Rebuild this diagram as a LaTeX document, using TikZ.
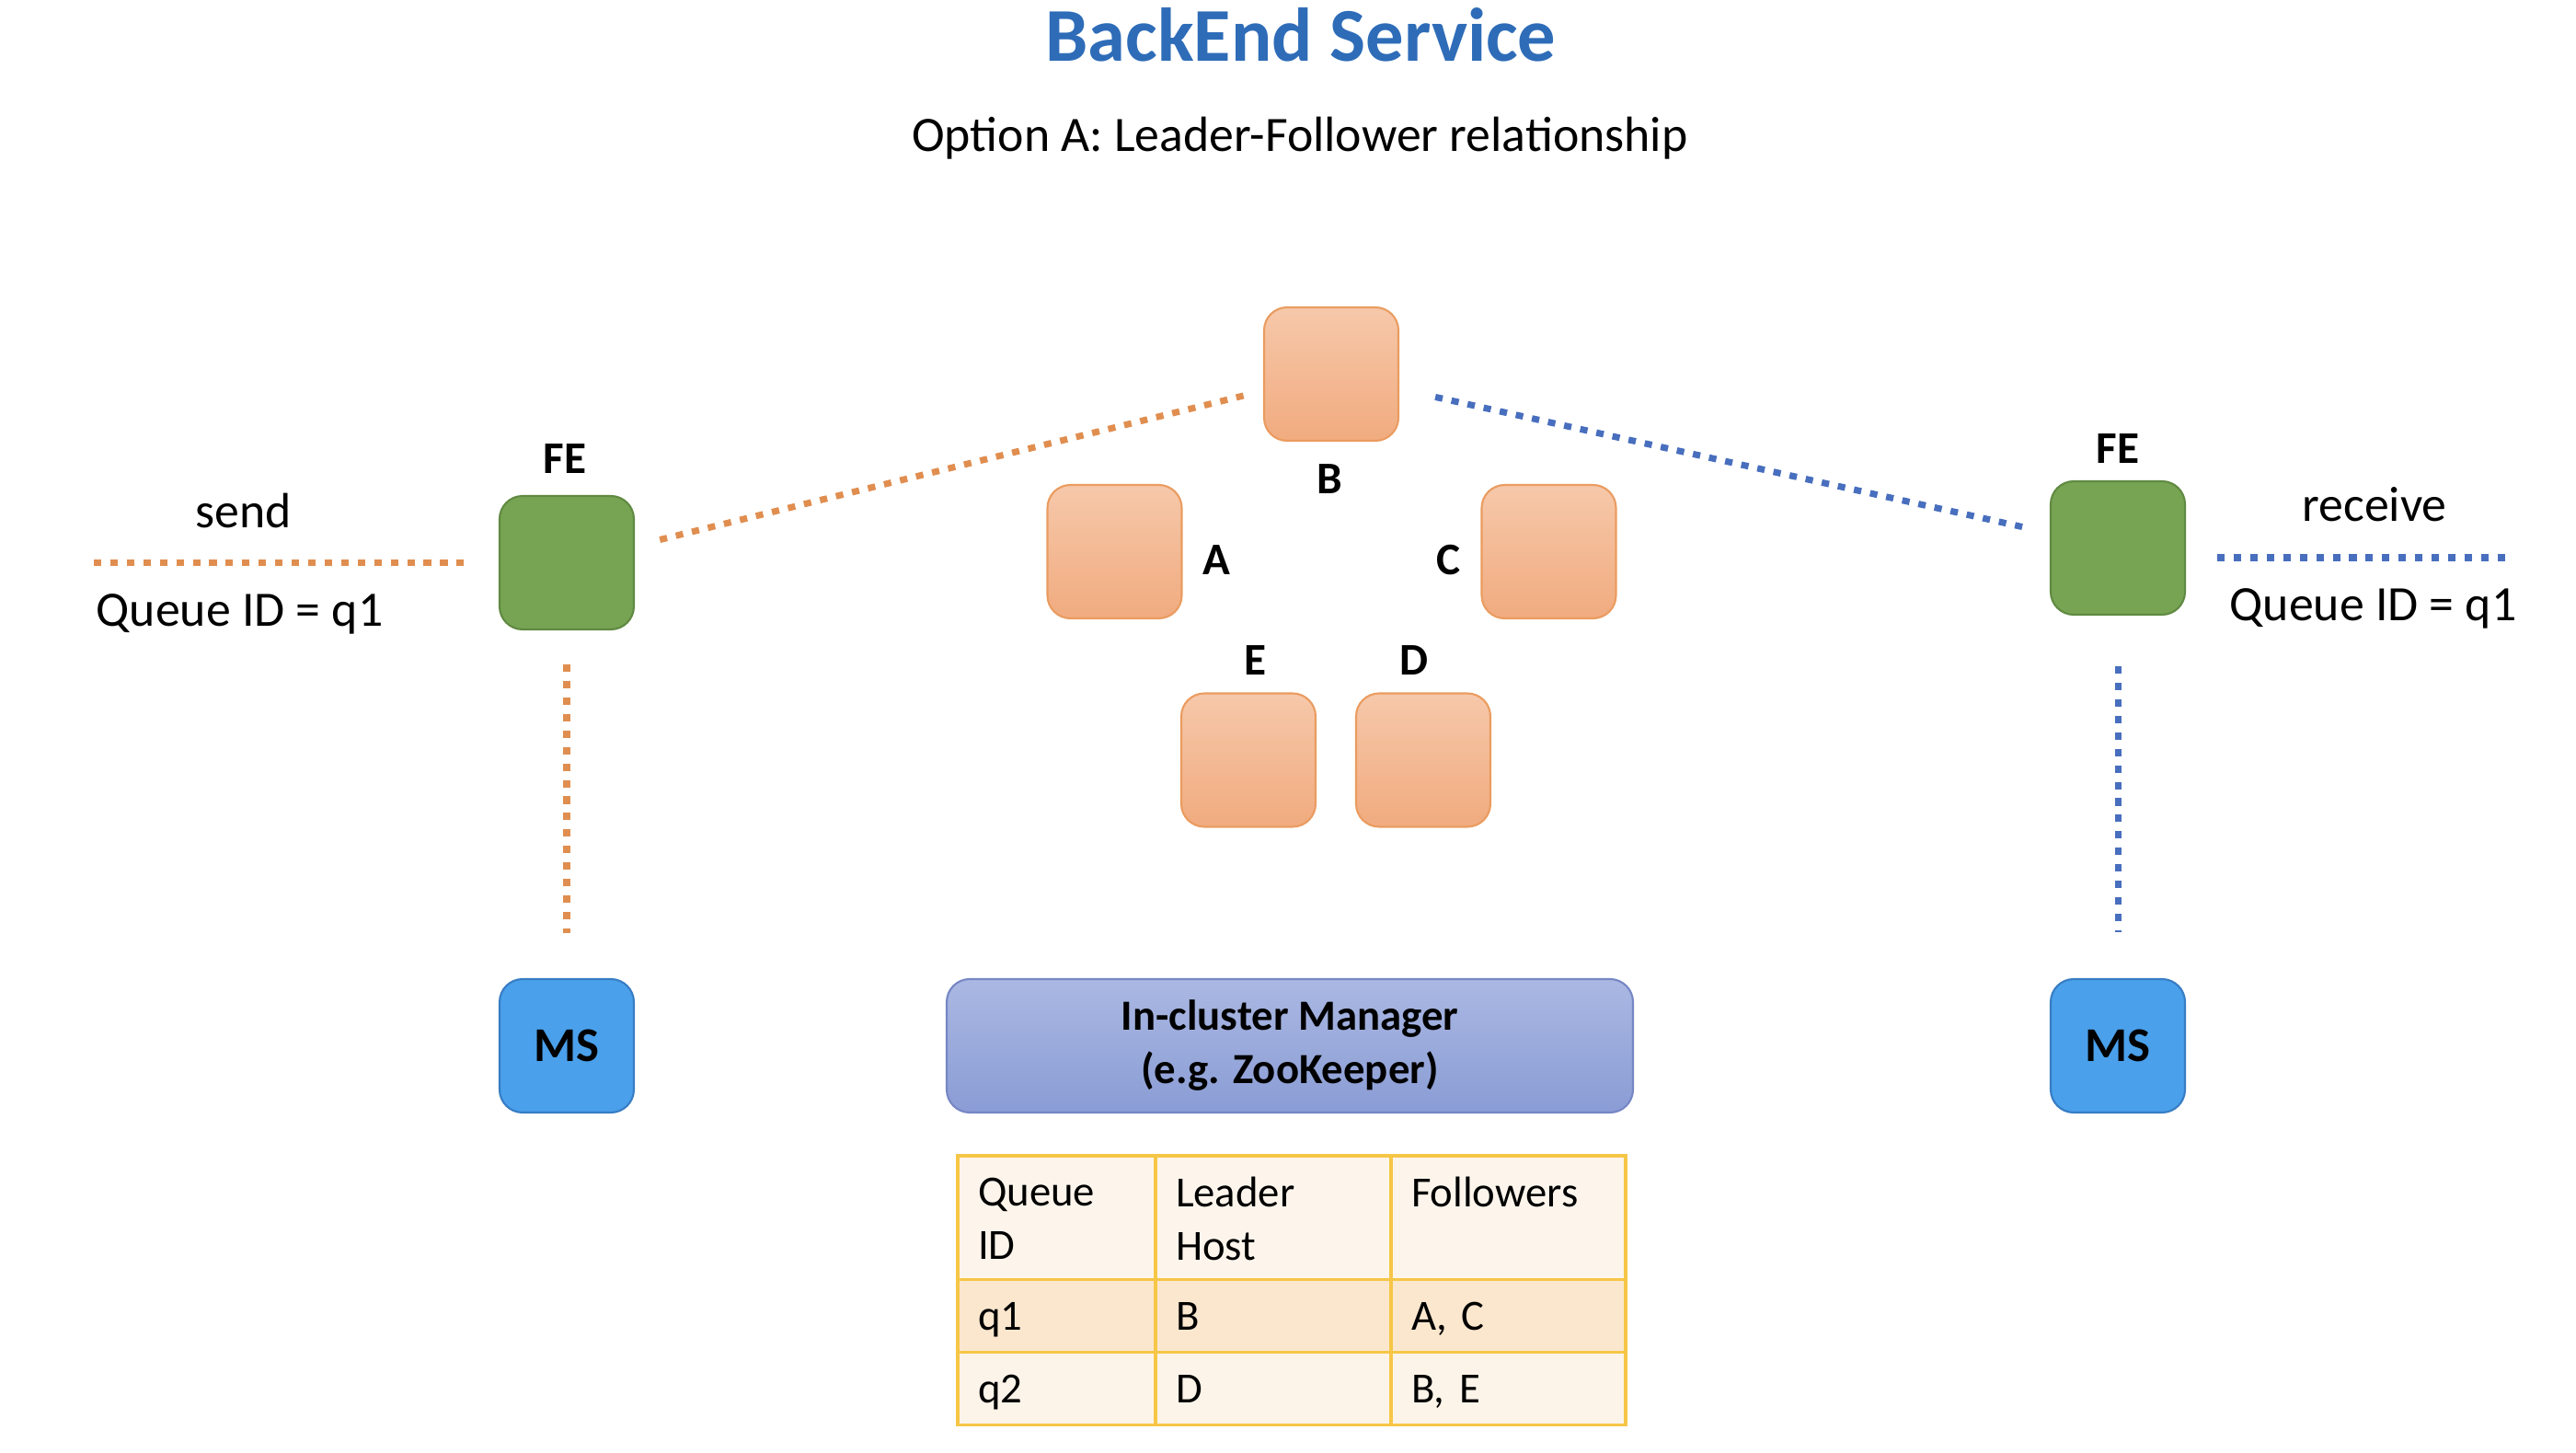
\documentclass[tikz,border=0pt]{standalone}
\usepackage{fontspec}
\setmainfont{Carlito}
\usepackage{xcolor}
\definecolor{titleblue}{RGB}{46, 108, 184}
\definecolor{hosttop}{RGB}{246, 200, 170}
\definecolor{hostbot}{RGB}{241, 171, 127}
\definecolor{hostedge}{RGB}{234, 156, 96}
\definecolor{fegreen}{RGB}{119, 164, 83}
\definecolor{feedge}{RGB}{96, 138, 66}
\definecolor{msblue}{RGB}{74, 160, 235}
\definecolor{msedge}{RGB}{55, 125, 195}
\definecolor{mgrtop}{RGB}{170, 184, 226}
\definecolor{mgrbot}{RGB}{138, 156, 213}
\definecolor{mgredge}{RGB}{118, 135, 196}
\definecolor{tabedge}{RGB}{246, 198, 70}
\definecolor{tabhead}{RGB}{253, 245, 236}
\definecolor{tabrowa}{RGB}{251, 231, 206}
\definecolor{tabrowb}{RGB}{253, 244, 233}
\definecolor{sendorange}{RGB}{224, 142, 80}
\definecolor{recvblue}{RGB}{72, 110, 190}

\begin{document}
\begin{tikzpicture}[
    box/.style={rectangle, rounded corners=2.5mm, line width=0.6pt, minimum width=1.46cm, minimum height=1.45cm},
    host/.style={box, draw=hostedge, top color=hosttop, bottom color=hostbot},
    fe/.style={box, draw=feedge, fill=fegreen},
    ms/.style={box, draw=msedge, fill=msblue, font=\fontsize{15}{18}\selectfont\bfseries},
    tag/.style={anchor=base, font=\fontsize{14}{17}\selectfont\bfseries},
    txt/.style={anchor=base, font=\fontsize{15.3}{18}\selectfont},
    cell/.style={rectangle, draw=tabedge, line width=0.9pt, inner xsep=2.2mm, align=left, font=\fontsize{13.3}{16.5}\selectfont},
    headcell/.style={cell, fill=tabhead, minimum height=1.36cm},
    rowcell/.style={cell, minimum height=0.79cm, text height=0.9em, text depth=0.04em},
    sendline/.style={sendorange, line width=2pt, dash pattern=on 2.3pt off 2.8pt},
    recvline/.style={recvblue, line width=2pt, dash pattern=on 2.3pt off 2.8pt}]
    \useasboundingbox (0, 0) rectangle (28, 15.78);

    % Title
    \node[anchor=base, text=titleblue, font=\fontsize{23.5}{28}\selectfont\bfseries] (title) at (14.14, 15.11) {BackEnd Service};
    \node[txt] (subtitle) at (14.13, 14.13) {Option A: Leader-Follower relationship};

    % Hosts
    \node[host] (hB) at (14.47, 11.715) {};
    \node[host] (hA) at (12.115, 9.785) {};
    \node[host] (hC) at (16.835, 9.785) {};
    \node[host] (hE) at (13.57, 7.52) {};
    \node[host] (hD) at (15.47, 7.52) {};
    \node[tag] (labB) at (14.45, 10.41) {B};
    \node[tag] (labA) at (13.22, 9.53) {A};
    \node[tag] (labC) at (15.75, 9.53) {C};
    \node[tag] (labE) at (13.64, 8.45) {E};
    \node[tag] (labD) at (15.37, 8.45) {D};

    % Front ends
    \node[fe] (feL) at (6.16, 9.665) {};
    \node[fe] (feR) at (23.02, 9.825) {};
    \node[tag] (labFeL) at (6.14, 10.63) {FE};
    \node[tag] (labFeR) at (23.02, 10.74) {FE};

    % Metadata services
    \node[ms] (msL) at (6.16, 4.415) {MS};
    \node[ms] (msR) at (23.02, 4.415) {MS};

    % Manager
    \node[box, draw=mgredge, top color=mgrtop, bottom color=mgrbot, minimum width=7.46cm, align=center,
          font=\fontsize{13.3}{16.5}\selectfont\bfseries] (mgr) at (14.02, 4.415) {In-cluster Manager\\(e.g. ZooKeeper)};

    % Table
    \node[headcell, minimum width=2.15cm, text width=1.71cm] (tq) at (11.485, 2.54) {Queue\\ID};
    \node[headcell, minimum width=2.56cm, text width=2.12cm] (tl) at (13.84, 2.54) {Leader\\Host};
    \node[headcell, minimum width=2.55cm, text width=2.11cm] (tf) at (16.395, 2.54) {Followers\\\mbox{}};
    \node[rowcell, fill=tabrowa, minimum width=2.15cm, text width=1.71cm] (q1id) at (11.485, 1.48) {q1};
    \node[rowcell, fill=tabrowa, minimum width=2.56cm, text width=2.12cm] (q1lead) at (13.84, 1.48) {B};
    \node[rowcell, fill=tabrowa, minimum width=2.55cm, text width=2.11cm] (q1fol) at (16.395, 1.48) {A, C};
    \node[rowcell, fill=tabrowb, minimum width=2.15cm, text width=1.71cm] (q2id) at (11.485, 0.69) {q2};
    \node[rowcell, fill=tabrowb, minimum width=2.56cm, text width=2.12cm] (q2lead) at (13.84, 0.69) {D};
    \node[rowcell, fill=tabrowb, minimum width=2.55cm, text width=2.11cm] (q2fol) at (16.395, 0.69) {B, E};

    % Send / receive
    \coordinate (sendL) at (1.02, 9.665);
    \coordinate (recvR) at (27.23, 9.72);
    \node[txt] (sendTxt) at (2.65, 10.04) {send};
    \node[txt] (sendQ) at (2.605, 8.98) {Queue ID = q1};
    \node[txt] (recvTxt) at (25.81, 10.11) {receive};
    \node[txt] (recvQ) at (25.795, 9.04) {Queue ID = q1};

    % Connections
    \draw[sendline, shorten >=3.6mm] (sendL) -- (feL);
    \draw[sendline, shorten <=2.8mm, shorten >=2.2mm] (feL) -- (hB);
    \draw[sendline, shorten <=3.7mm, shorten >=4.9mm] (feL) -- (msL);
    \draw[recvline, shorten <=4mm, shorten >=2.9mm] (hB) -- (feR);
    \draw[recvline, shorten <=3.4mm] (feR.east |- recvR) -- (recvR);
    \draw[recvline, shorten <=5.5mm, shorten >=5mm] (feR) -- (msR);
\end{tikzpicture}
\end{document}
